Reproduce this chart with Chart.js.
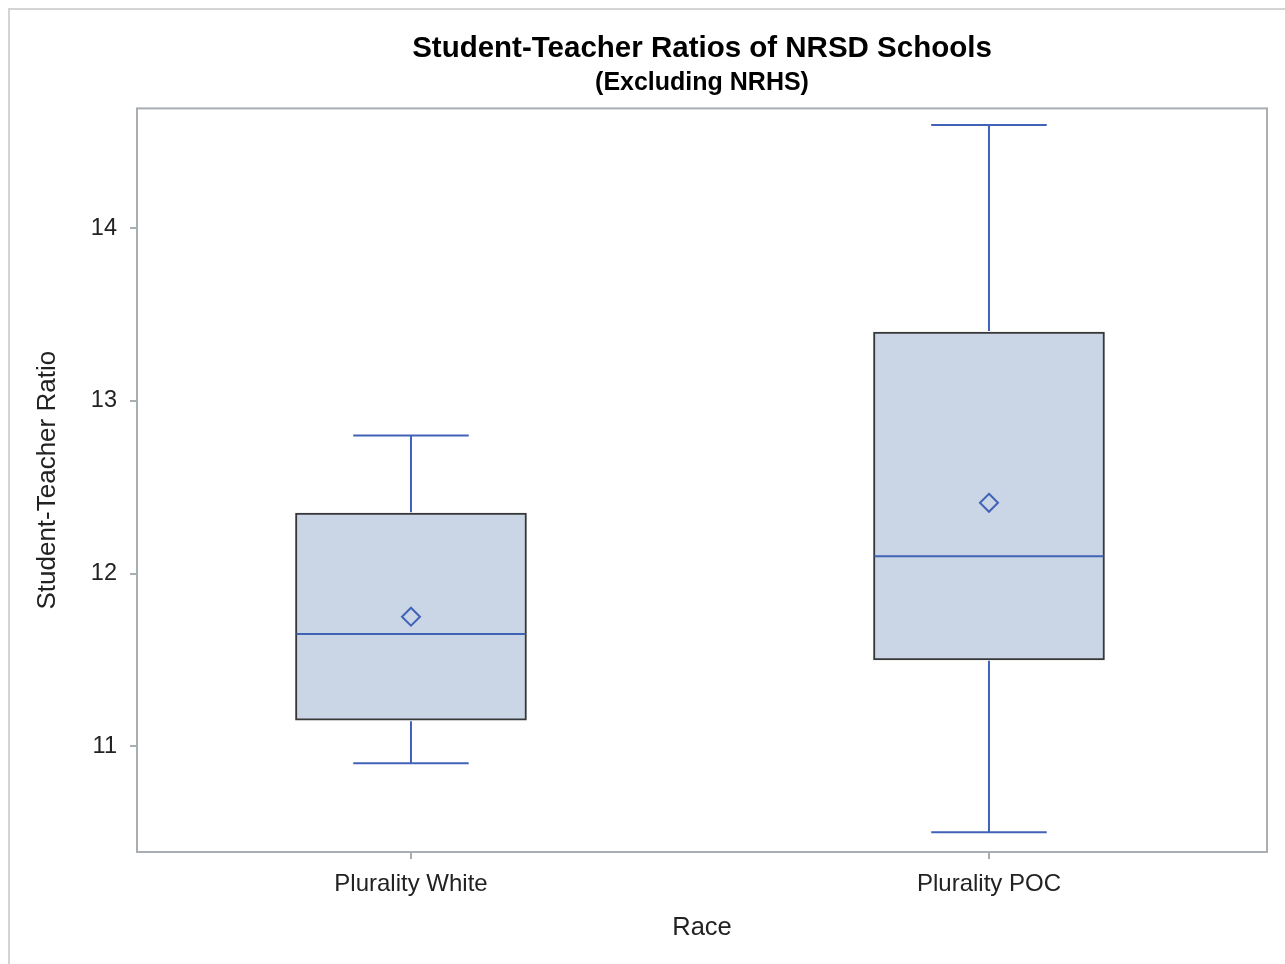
<!DOCTYPE html>
<html>
<head>
<meta charset="utf-8">
<script src="https://cdn.jsdelivr.net/npm/chart.js@4.4.1/dist/chart.umd.min.js"></script>
<style>
    html, body { margin: 0; padding: 0; background: #fff; overflow: hidden; }
    #frame { position: absolute; left: 8px; top: 8px; width: 1300px; height: 1000px; border: 2px solid #d4d4d4; box-sizing: border-box; }
    #wrap { position: absolute; left: 0; top: 0; width: 1285px; height: 964px; }
</style>
</head>
<body>
<div id="frame"></div>
<div id="wrap"><canvas id="chart"></canvas></div>
<script>
// box plot values
const categories = ["Plurality White", "Plurality POC"];
const whiskerLow = [10.9, 10.5];
const quartile1 = [11.15, 11.5];
const medians = [11.65, 12.1];
const quartile3 = [12.35, 13.4];
const whiskerHigh = [12.8, 14.6];
const means = [11.75, 12.41];
const yTicks = [11, 12, 13, 14];

const BLUE = "#4063b8";
const FONT = "Liberation Sans";

// draws whiskers, caps, median line and mean diamond on top of the boxes
const boxExtras = {
    id: "boxExtras",
    afterDatasetsDraw(chart) {
        const ctx = chart.ctx;
        const y = chart.scales.y;
        const meta = chart.getDatasetMeta(0);
        ctx.save();
        ctx.strokeStyle = BLUE;
        ctx.lineWidth = 2;
        meta.data.forEach((bar, i) => {
            const cx = bar.x;
            const half = bar.width / 2;
            const cap = half / 2;
            const yq1 = y.getPixelForValue(quartile1[i]);
            const yq3 = y.getPixelForValue(quartile3[i]);
            const ylo = y.getPixelForValue(whiskerLow[i]);
            const yhi = y.getPixelForValue(whiskerHigh[i]);
            const ymed = y.getPixelForValue(medians[i]);
            const ymean = y.getPixelForValue(means[i]);

            ctx.beginPath();
            ctx.moveTo(cx, yq3 - 1); ctx.lineTo(cx, yhi);
            ctx.moveTo(cx - cap, yhi); ctx.lineTo(cx + cap, yhi);
            ctx.moveTo(cx, yq1 + 1); ctx.lineTo(cx, ylo);
            ctx.moveTo(cx - cap, ylo); ctx.lineTo(cx + cap, ylo);
            ctx.moveTo(cx - half + 1, ymed); ctx.lineTo(cx + half - 1, ymed);
            ctx.stroke();

            const d = 9;
            ctx.beginPath();
            ctx.moveTo(cx, ymean - d);
            ctx.lineTo(cx + d, ymean);
            ctx.lineTo(cx, ymean + d);
            ctx.lineTo(cx - d, ymean);
            ctx.closePath();
            ctx.stroke();
        });
        ctx.restore();
    },
    afterDraw(chart) {
        const a = chart.chartArea;
        const ctx = chart.ctx;
        ctx.save();
        ctx.strokeStyle = "#a9aeb3";
        ctx.lineWidth = 2;
        ctx.strokeRect(a.left, a.top, a.right - a.left, a.bottom - a.top);
        ctx.restore();
    }
};

new Chart(document.getElementById("chart"), {
    type: "bar",
    data: {
        datasets: [{
            data: categories.map((c, i) => ({ x: i, y: [quartile1[i], quartile3[i]] })),
            backgroundColor: "#cad6e6",
            borderColor: "#383838",
            borderWidth: 2,
            borderSkipped: false,
            barThickness: 231
        }]
    },
    options: {
        responsive: true,
        maintainAspectRatio: false,
        animation: false,
        layout: { padding: { left: 0, right: 18, top: 0, bottom: 0 } },
        plugins: {
            legend: { display: false },
            tooltip: { enabled: false },
            title: {
                display: true,
                fullSize: false,
                text: "Student-Teacher Ratios of NRSD Schools",
                color: "#000",
                font: { family: FONT, size: 29.5, weight: "bold" },
                padding: { top: 31, bottom: 0 }
            },
            subtitle: {
                display: true,
                fullSize: false,
                text: "(Excluding NRHS)",
                color: "#000",
                font: { family: FONT, size: 25, weight: "bold" },
                padding: { top: 2, bottom: 10 }
            }
        },
        scales: {
            x: {
                type: "linear",
                offset: false,
                min: -0.474,
                max: 1.481,
                afterBuildTicks: (s) => { s.ticks = categories.map((c, i) => ({ value: i })); },
                afterFit: (s) => { s.height = 112; },
                ticks: {
                    callback: (v) => categories[v] || "",
                    color: "#222",
                    font: { family: FONT, size: 24 },
                    padding: 11,
                    maxRotation: 0
                },
                grid: { drawOnChartArea: false, offset: false, tickLength: 7, color: "#a9aeb3", lineWidth: 2 },
                border: { display: false },
                title: {
                    display: true,
                    text: "Race",
                    color: "#222",
                    font: { family: FONT, size: 25.5 },
                    padding: { top: 10, bottom: 21 }
                }
            },
            y: {
                min: 10.386,
                max: 14.696,
                afterBuildTicks: (s) => { s.ticks = yTicks.map(v => ({ value: v })); },
                afterFit: (s) => { s.width = 137; },
                ticks: {
                    color: "#222",
                    font: { family: FONT, size: 23.5 },
                    padding: 13
                },
                grid: { drawOnChartArea: false, tickLength: 7, color: "#a9aeb3", lineWidth: 2 },
                border: { display: false },
                title: {
                    display: true,
                    text: "Student-Teacher Ratio",
                    color: "#222",
                    font: { family: FONT, size: 26 },
                    padding: { top: 32, bottom: 0 }
                }
            }
        }
    },
    plugins: [boxExtras]
});
</script>
</body>
</html>
